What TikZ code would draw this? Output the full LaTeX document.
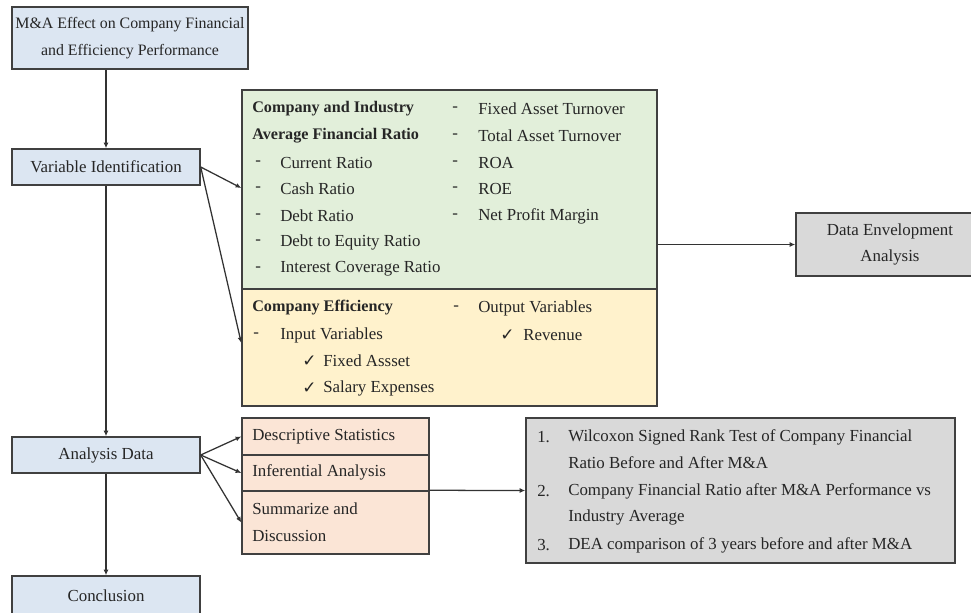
\documentclass[tikz,border=0pt]{standalone}
\usepackage{fontspec}
\setmainfont{Liberation Serif}
\newfontfamily\tickfont{DejaVu Sans}
\usetikzlibrary{arrows.meta}
\definecolor{boxblue}{HTML}{DCE6F2}
\definecolor{boxgreen}{HTML}{E2EFDA}
\definecolor{boxyellow}{HTML}{FFF2CC}
\definecolor{boxpink}{HTML}{FBE5D6}
\definecolor{boxgray}{HTML}{D9D9D9}
\definecolor{edge}{HTML}{404040}
\newcommand{\tick}{{\tickfont\char"2713}}
\begin{document}
\begin{tikzpicture}[x=0.025cm, y=-0.025cm,
    font=\fontsize{12}{14}\selectfont,
    stepbox/.style={draw=edge, line width=1pt, inner sep=0pt, text=black!85},
    item/.style={anchor=west, inner sep=0pt, text=black!85},
    head/.style={item, font=\fontsize{11.5}{14}\selectfont\bfseries},
    link/.style={draw=black!80, line width=0.9pt, -{Latex[length=4pt,width=3.5pt]}}]
  \useasboundingbox (0,0) rectangle (971,612);

  % main column
  \node [stepbox, fill=boxblue, minimum width=236*0.025cm, minimum height=62*0.025cm,
         align=center, font=\fontsize{11.3}{19}\selectfont] (effect) at (130,38)
        {M\&A Effect on Company Financial\\and Efficiency Performance};
  \node [stepbox, fill=boxblue, minimum width=188*0.025cm, minimum height=36*0.025cm] (ident) at (106,167) {Variable Identification};
  \node [stepbox, fill=boxblue, minimum width=188*0.025cm, minimum height=36*0.025cm] (analysis) at (106,455) {Analysis Data};
  \node [stepbox, fill=boxblue, minimum width=188*0.025cm, minimum height=40*0.025cm] (concl) at (106,596) {Conclusion};

  % variable boxes
  \node [stepbox, fill=boxgreen, minimum width=415*0.025cm, minimum height=199*0.025cm] (ratio) at (449.5,189.5) {};
  \node [stepbox, fill=boxyellow, minimum width=415*0.025cm, minimum height=117*0.025cm] (eff) at (449.5,347.5) {};

  \node [head] (t1) at (252,109) {Company and Industry};
  \node [head] (t2) at (252,136) {Average Financial Ratio};
  \node [item] (d1) at (255,163) {-};
  \node [item] (cur) at (280,163) {Current Ratio};
  \node [item] (d2) at (255,189) {-};
  \node [item] (cash) at (280,189) {Cash Ratio};
  \node [item] (d3) at (255,216) {-};
  \node [item] (debt) at (280,216) {Debt Ratio};
  \node [item] (d4) at (255,242) {-};
  \node [item] (der) at (280,242) {Debt to Equity Ratio};
  \node [item] (d5) at (255,269) {-};
  \node [item] (icr) at (280,269) {Interest Coverage Ratio};
  \node [item] (d6) at (452,109) {-};
  \node [item] (fat) at (478,109) {Fixed Asset Turnover};
  \node [item] (d7) at (452,136) {-};
  \node [item] (tat) at (478,136) {Total Asset Turnover};
  \node [item] (d8) at (452,163) {-};
  \node [item] (roa) at (478,163) {ROA};
  \node [item] (d9) at (452,189) {-};
  \node [item] (roe) at (478,189) {ROE};
  \node [item] (d10) at (452,216) {-};
  \node [item] (npm) at (478,216) {Net Profit Margin};

  \node [head] (t3) at (252,308) {Company Efficiency};
  \node [item] (d11) at (253,335) {-};
  \node [item] (inp) at (280,335) {Input Variables};
  \node [item] (c1) at (302,361) {\tick};
  \node [item] (fix) at (323,361) {Fixed Assset};
  \node [item] (c2) at (302,388) {\tick};
  \node [item] (sal) at (323,388) {Salary Expenses};
  \node [item] (d12) at (453,308) {-};
  \node [item] (outp) at (478,308) {Output Variables};
  \node [item] (c3) at (500,335) {\tick};
  \node [item] (rev) at (523,335) {Revenue};

  \node [stepbox, fill=boxgray, minimum width=188*0.025cm, minimum height=63*0.025cm,
         align=center, font=\fontsize{12}{19}\selectfont] (dea) at (890,244.5)
        {Data Envelopment\\Analysis};

  % analysis boxes
  \node [stepbox, fill=boxpink, minimum width=187*0.025cm, minimum height=37*0.025cm] (desc) at (335.5,436.5) {};
  \node [stepbox, fill=boxpink, minimum width=187*0.025cm, minimum height=36*0.025cm] (infer) at (335.5,473) {};
  \node [stepbox, fill=boxpink, minimum width=187*0.025cm, minimum height=63*0.025cm] (summ) at (335.5,522.5) {};
  \node [item] (tdesc) at (252,437) {Descriptive Statistics};
  \node [item] (tinfer) at (252,472) {Inferential Analysis};
  \node [item] (tsumm) at (252,509) {Summarize and};
  \node [item] (tdisc) at (252,536) {Discussion};

  \node [stepbox, fill=boxgray, minimum width=429*0.025cm, minimum height=145*0.025cm] (tests) at (740.5,490.5) {};
  \node [item] (n1) at (537,437) {1.};
  \node [item] (w1) at (568,437) {Wilcoxon Signed Rank Test of Company Financial};
  \node [item] (w2) at (568,463) {Ratio Before and After M\&A};
  \node [item] (n2) at (537,491) {2.};
  \node [item] (w3) at (568,491) {Company Financial Ratio after M\&A Performance vs};
  \node [item] (w4) at (568,517) {Industry Average};
  \node [item] (n3) at (537,545) {3.};
  \node [item] (w5) at (568,545) {DEA comparison of 3 years before and after M\&A};

  % connectors
  \draw [link] (ident.north |- effect.south) -- (ident.north);
  \draw [link] (ident) -- (analysis);
  \draw [link] (analysis) -- (concl);
  \draw [link] (ident.east) -- (ratio.west |- 0,188);
  \draw [link] (ident.east) -- (eff.west |- 0,343);
  \draw [link] (ratio.east |- dea) -- (dea.west);
  \draw [link] (analysis.east) -- (desc.west);
  \draw [link] (analysis.east) -- (infer.west);
  \draw [link] (analysis.east) -- (summ.west);
  \draw [link] (summ.north east) -- (tests.west);
\end{tikzpicture}
\end{document}
